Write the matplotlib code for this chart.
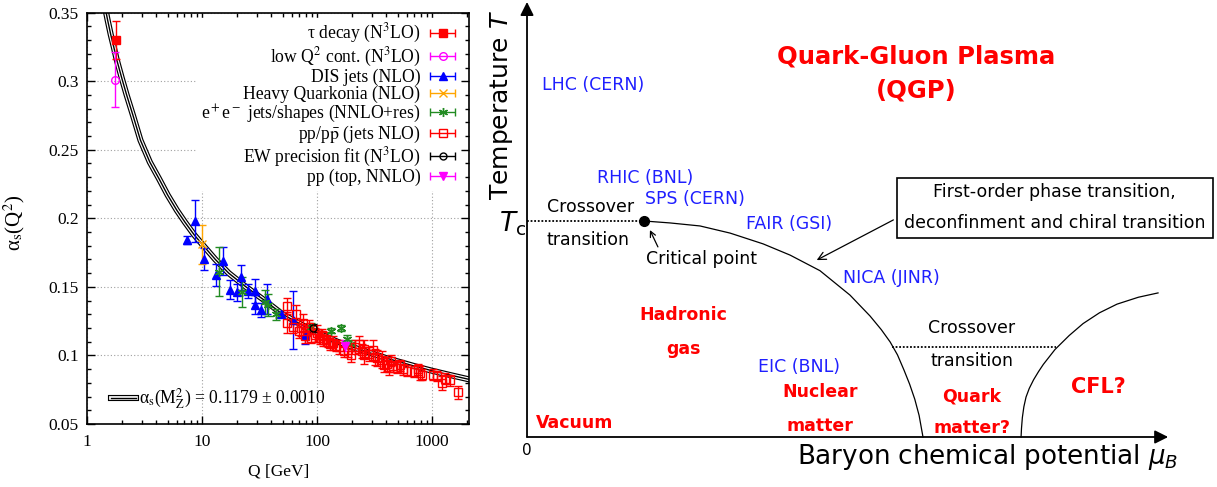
import numpy as np
import matplotlib.pyplot as plt
import matplotlib.patheffects as pe
from matplotlib.container import ErrorbarContainer
from matplotlib.font_manager import FontProperties
from matplotlib.legend_handler import HandlerErrorbar
from matplotlib.patches import Rectangle
from matplotlib.ticker import FixedLocator, FixedFormatter, LogLocator, NullFormatter, MultipleLocator

# ---------------- left panel: alpha_s(Q) measurements ----------------
curve_Q = [1.42, 1.5, 1.6, 1.7, 1.8, 2.0, 2.2, 2.5, 2.9, 3.5, 4.2, 5.0, 6.0, 7.1, 8.5, 10,
           13, 17, 24, 35, 50, 91.2, 150, 250, 400, 700, 1000, 1500, 2100]
curve_a = [0.355, 0.345, 0.334, 0.325, 0.316, 0.302, 0.290, 0.275, 0.257, 0.241, 0.229, 0.217,
           0.206, 0.197, 0.188, 0.181, 0.170, 0.160, 0.150, 0.140, 0.130, 0.118, 0.110, 0.1035,
           0.098, 0.0922, 0.0888, 0.0853, 0.0825]

tau_Q, tau_a, tau_e = [1.78], [0.330], [0.014]
lowq_Q, lowq_a, lowq_e = [1.75], [0.301], [0.020]

dis_Q = [7.4, 8.6, 10.3, 13.2, 15.1, 17.3, 20, 21.6, 24.9, 29, 29, 32.6, 36.6, 48.3, 62, 78.5]
dis_a = [0.184, 0.198, 0.170, 0.159, 0.169, 0.148, 0.146, 0.157, 0.147, 0.147, 0.137, 0.133,
         0.141, 0.130, 0.126, 0.115]
dis_e = [0.003, 0.015, 0.008, 0.008, 0.010, 0.007, 0.006, 0.009, 0.005, 0.009, 0.007, 0.005,
         0.011, 0.002, 0.021, 0.007]

hq_Q, hq_a, hq_e = [10.0], [0.181], [0.014]

ee_Q = [14, 22, 35, 37, 44, 89, 133, 161, 181, 197]
ee_a = [0.161, 0.146, 0.139, 0.137, 0.130, 0.121, 0.118, 0.120, 0.112, 0.108]
ee_e = [0.018, 0.011, 0.009, 0.008, 0.004, 0.003, 0.002, 0.002, 0.003, 0.003]

pp_Q = [55, 55, 62, 65, 70, 72, 75, 78, 82, 85, 88, 95, 100, 106, 110, 113, 120, 125, 130, 138,
        147, 155, 170, 184, 195, 212, 230, 244, 253, 253, 280, 307, 320, 331, 364, 380, 406,
        418, 440, 460, 496, 525, 560, 600, 700, 757, 790, 820, 1010, 1100, 1210, 1300, 1435, 1660]
pp_a = [0.136, 0.124, 0.121, 0.130, 0.118, 0.120, 0.124, 0.114, 0.118, 0.121, 0.113, 0.115,
        0.116, 0.113, 0.115, 0.111, 0.112, 0.110, 0.108, 0.109, 0.107, 0.106, 0.103, 0.104,
        0.100, 0.106, 0.108, 0.103, 0.105, 0.100, 0.101, 0.104, 0.099, 0.098, 0.097, 0.093,
        0.094, 0.091, 0.096, 0.092, 0.091, 0.093, 0.090, 0.089, 0.088, 0.090, 0.087, 0.086,
        0.086, 0.085, 0.080, 0.083, 0.082, 0.073]
pp_e = [0.006, 0.008, 0.005, 0.007, 0.005, 0.006, 0.006, 0.005, 0.004, 0.005, 0.004, 0.005,
        0.006, 0.005, 0.004, 0.004, 0.005, 0.004, 0.004, 0.005, 0.004, 0.005, 0.004, 0.005,
        0.005, 0.005, 0.006, 0.005, 0.006, 0.006, 0.005, 0.007, 0.006, 0.006, 0.006, 0.005,
        0.005, 0.005, 0.004, 0.004, 0.004, 0.004, 0.004, 0.004, 0.004, 0.004, 0.005, 0.004,
        0.004, 0.004, 0.005, 0.004, 0.004, 0.005]

ew_Q, ew_a, ew_e = [91.2], [0.120], [0.003]
top_Q, top_a, top_e = [173], [0.107], [0.004]

y_ticks = [0.05, 0.1, 0.15, 0.2, 0.25, 0.3, 0.35]
y_tick_labels = ['0.05', '0.1', '0.15', '0.2', '0.25', '0.3', '0.35']
x_ticks = [1, 10, 100, 1000]
x_tick_labels = ['1', '10', '100', '1000']

# ---------------- right panel: QCD phase diagram (T in units of Tc) ----------------
first_order_mu = [0.542, 0.662, 0.801, 0.940, 1.093, 1.218, 1.356, 1.495, 1.588, 1.640,
                  1.681, 1.715, 1.745, 1.771, 1.795, 1.815, 1.833]
first_order_T = [1.000, 0.991, 0.977, 0.944, 0.894, 0.842, 0.770, 0.657, 0.560, 0.497,
                 0.440, 0.380, 0.310, 0.245, 0.175, 0.100, 0.0]
cfl_mu = [2.287, 2.289, 2.293, 2.300, 2.310, 2.325, 2.345, 2.368, 2.390, 2.444, 2.510,
          2.574, 2.650, 2.731, 2.830, 2.921]
cfl_T = [0.0, 0.040, 0.090, 0.140, 0.185, 0.225, 0.265, 0.303, 0.336, 0.405, 0.470,
         0.525, 0.575, 0.615, 0.647, 0.667]
crossover_hi_mu, crossover_hi_T = [0.0, 0.542], [1.0, 1.0]
crossover_lo_mu, crossover_lo_T = [1.690, 2.447], [0.418, 0.418]
critical_mu, critical_T = 0.542, 1.0

serif = 'Liberation Serif'
leg_font = FontProperties(family=serif, size=12.7, math_fontfamily='stix')

fig = plt.figure(figsize=(12.17, 4.87), dpi=100)
ax = fig.add_axes([0.0717, 0.1294, 0.3139, 0.8446])
ax.set_xscale('log')
ax.set_xlim(1, 2100)
ax.set_ylim(0.05, 0.35)

band = ax.plot(curve_Q, curve_a, color='black', lw=1.0, zorder=2,
               path_effects=[pe.Stroke(linewidth=4.4, foreground='black'),
                             pe.Stroke(linewidth=2.7, foreground='white'),
                             pe.Normal()])[0]

series = [
    (tau_Q, tau_a, tau_e, '#ff0000', 's', '#ff0000', 5.5, 'τ decay (N$^3$LO)'),
    (lowq_Q, lowq_a, lowq_e, '#ff00ff', 'o', 'none', 5.5, 'low Q$^2$ cont. (N$^3$LO)'),
    (dis_Q, dis_a, dis_e, '#0000ff', '^', '#0000ff', 5.5, 'DIS jets (NLO)'),
    (hq_Q, hq_a, hq_e, '#ffa500', 'x', '#ffa500', 5.5, 'Heavy Quarkonia (NLO)'),
    (ee_Q, ee_a, ee_e, '#228b22', (6, 2, 0), '#228b22', 6.5, 'e$^+$e$^-$ jets/shapes (NNLO+res)'),
    (pp_Q, pp_a, pp_e, '#ff0000', 's', 'none', 6.0, 'pp/p$\\bar{\\mathrm{p}}$ (jets NLO)'),
    (ew_Q, ew_a, ew_e, '#000000', 'o', 'none', 5.0, 'EW precision fit (N$^3$LO)'),
    (top_Q, top_a, top_e, '#ff00ff', 'v', '#ff00ff', 5.5, 'pp (top, NNLO)'),
]

proxies, labels = [], []
for Q, a, e, col, mk, mfc, ms, lab in series:
    style = dict(fmt='', marker=mk, ls='none', color=col, mfc=mfc, mec=col, ms=ms, mew=1.0,
                 elinewidth=1.0, capsize=3, capthick=1.0)
    ax.errorbar(Q, a, yerr=e, zorder=3, **style)
    p = ax.errorbar([np.nan], [np.nan], xerr=[1.0], **style)
    proxies.append(p)
    labels.append(lab)

leg1 = ax.legend(proxies, labels, loc='upper right', bbox_to_anchor=(0.99, 1.0),
                 markerfirst=False, prop=leg_font, frameon=True, fancybox=False,
                 framealpha=1.0, facecolor='white', edgecolor='white',
                 labelspacing=0.0, handlelength=1.5, handletextpad=0.5,
                 borderpad=0.25, borderaxespad=0.3,
                 handler_map={ErrorbarContainer: HandlerErrorbar(xerr_size=0.72)})
leg1.set_zorder(5)

leg2 = ax.legend([band], ['α$_\\mathrm{s}$(M$_\\mathrm{Z}^2$) = 0.1179 ± 0.0010'],
                 loc='lower left', bbox_to_anchor=(0.02, -0.008), prop=leg_font,
                 frameon=False, handlelength=1.45, handletextpad=0.15)
ax.add_artist(leg1)

ax.xaxis.set_major_locator(FixedLocator(x_ticks))
ax.xaxis.set_major_formatter(FixedFormatter(x_tick_labels))
ax.xaxis.set_minor_locator(LogLocator(base=10, subs=np.arange(2, 10)))
ax.xaxis.set_minor_formatter(NullFormatter())
ax.yaxis.set_major_locator(FixedLocator(y_ticks))
ax.yaxis.set_major_formatter(FixedFormatter(y_tick_labels))
ax.yaxis.set_minor_locator(MultipleLocator(0.01))
ax.tick_params(which='both', direction='in', top=True, right=True, width=1.0)
ax.tick_params(which='major', length=6)
ax.tick_params(which='minor', length=3.2)
ax.tick_params(axis='x', pad=7)
ax.tick_params(axis='y', pad=6)
for lab in ax.get_xticklabels() + ax.get_yticklabels():
    lab.set_fontfamily(serif)
    lab.set_fontsize(12.5)
for s in ax.spines.values():
    s.set_linewidth(1.2)

ax.grid(True, which='major', color='#a0a0a0', linestyle=(0, (1, 2)), lw=0.8)
ax.set_axisbelow(True)

ax.set_xlabel('Q [GeV]', fontfamily=serif, fontsize=12.5)
ax.xaxis.set_label_coords(0.5, -0.095)
ax.set_ylabel('α$_\\mathrm{s}$(Q$^2$)', fontfamily=serif, fontsize=15, math_fontfamily='stix')
ax.yaxis.set_label_coords(-0.158, 0.489)

# ---------------- right panel ----------------
ax2 = fig.add_axes([480 / 1217, 0.0, 737 / 1217, 1.0])
ax2.set_xlim(-0.2176, 3.194)
ax2.set_ylim(-0.2315, 2.0231)
ax2.axis('off')

arrow_kw = dict(arrowstyle='-|>', color='black', lw=1.3, mutation_scale=20, shrinkA=0, shrinkB=0)
ax2.annotate('', xy=(0, 2.014), xytext=(0, 0), arrowprops=arrow_kw)
ax2.annotate('', xy=(2.968, 0), xytext=(0, 0), arrowprops=arrow_kw)

ax2.plot(first_order_mu, first_order_T, color='black', lw=0.9)
ax2.plot(cfl_mu, cfl_T, color='black', lw=0.9)
ax2.plot(crossover_hi_mu, crossover_hi_T, color='black', lw=1.3, linestyle=(0, (1, 1)))
ax2.plot(crossover_lo_mu, crossover_lo_T, color='black', lw=1.3, linestyle=(0, (1, 1)))
ax2.plot([critical_mu], [critical_T], 'o', color='black', ms=7)

blue = '#1f1fff'
red = '#ff0000'
dv = dict(fontfamily='DejaVu Sans', math_fontfamily='dejavusans')

ax2.text(1.801, 1.761, 'Quark-Gluon Plasma', color=red, fontsize=17.5, fontweight='bold',
         ha='center', va='center', **dv)
ax2.text(1.804, 1.606, '(QGP)', color=red, fontsize=17.5, fontweight='bold',
         ha='center', va='center', **dv)

for x, y, s in [(0.068, 1.630, 'LHC (CERN)'), (0.323, 1.200, 'RHIC (BNL)'),
                (0.546, 1.102, 'SPS (CERN)'), (1.014, 0.986, 'FAIR (GSI)'),
                (1.463, 0.735, 'NICA (JINR)')]:
    ax2.text(x, y, s, color=blue, fontsize=12.5, ha='left', va='center', **dv)
ax2.text(1.259, 0.325, 'EIC (BNL)', color=blue, fontsize=12.5, ha='center', va='center', **dv)

for x, y, s in [(0.292, 1.063, 'Crossover'), (0.282, 0.912, 'transition'),
                (0.806, 0.824, 'Critical point'), (2.060, 0.506, 'Crossover'),
                (2.060, 0.352, 'transition')]:
    ax2.text(x, y, s, color='black', fontsize=12.5, ha='center', va='center', **dv)

for x, y, s in [(0.722, 0.565, 'Hadronic'), (0.724, 0.407, 'gas'),
                (1.356, 0.208, 'Nuclear'), (1.356, 0.052, 'matter'),
                (0.221, 0.063, 'Vacuum'), (2.060, 0.187, 'Quark'), (2.060, 0.043, 'matter?')]:
    ax2.text(x, y, s, color=red, fontsize=12.5, fontweight='bold', ha='center', va='center', **dv)
ax2.text(2.644, 0.233, 'CFL?', color=red, fontsize=15, fontweight='bold', ha='center', va='center', **dv)

ax2.add_patch(Rectangle((1.712, 0.920), 1.463, 0.278, fill=False, edgecolor='black', lw=1.2))
ax2.text(2.443, 1.136, 'First-order phase transition,', fontsize=12.5, ha='center', va='center', **dv)
ax2.text(2.443, 0.989, 'deconfinment and chiral transition', fontsize=12.5, ha='center', va='center', **dv)

ax2.annotate('', xy=(1.341, 0.819), xytext=(1.696, 1.005),
             arrowprops=dict(arrowstyle='->', color='black', lw=0.9, mutation_scale=14,
                             shrinkA=0, shrinkB=0))
ax2.annotate('', xy=(0.569, 0.958), xytext=(0.606, 0.880),
             arrowprops=dict(arrowstyle='->', color='black', lw=0.9, mutation_scale=10,
                             shrinkA=0, shrinkB=0))

ax2.text(0.0, -0.063, '0', fontsize=11, ha='center', va='center', **dv)
ax2.text(1.25, -0.091, 'Baryon chemical potential $\\mu_B$', fontsize=18.8, ha='left', va='center', **dv)
ax2.text(-0.117, 1.537, 'Temperature $T$', fontsize=18, rotation=90, ha='center', va='center', **dv)
ax2.text(-0.005, 0.95, '$T_\\mathrm{c}$', fontsize=19, ha='right', va='baseline', **dv)

fig.savefig('out.png', dpi=100)
